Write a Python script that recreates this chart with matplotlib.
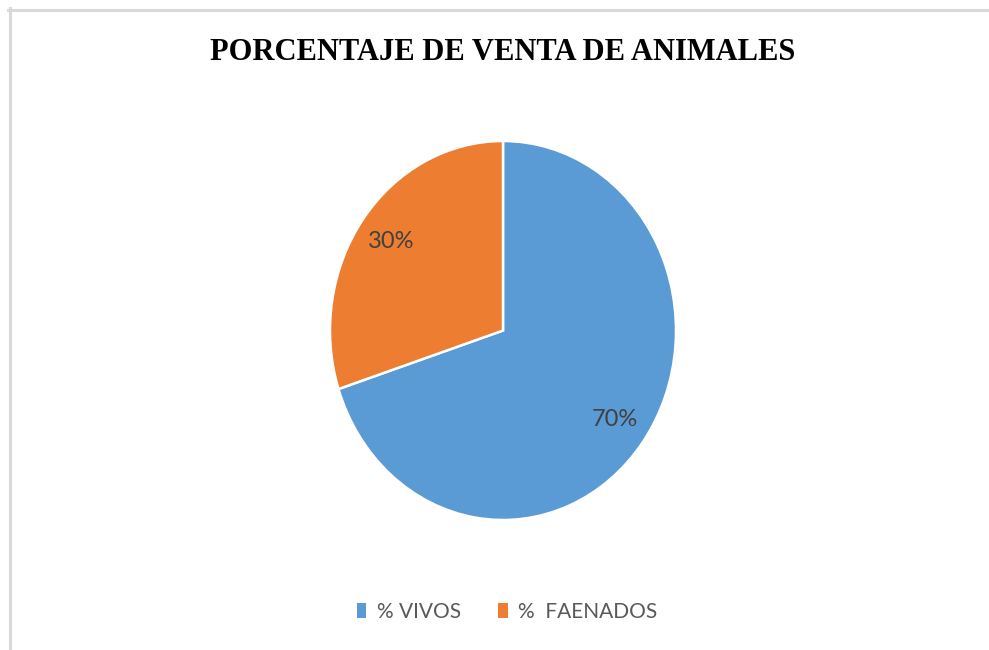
import matplotlib
matplotlib.use("Agg")
import matplotlib.pyplot as plt
from matplotlib.patches import Patch
from matplotlib.lines import Line2D

categories = ["% VIVOS", "%  FAENADOS"]
values = [70, 30]
colors = ["#5B9BD5", "#ED7D31"]
title = "PORCENTAJE DE VENTA DE ANIMALES"

W, H = 989, 650
fig = plt.figure(figsize=(W / 100, H / 100), dpi=100)
fig.patch.set_facecolor("white")

# pie axes (slightly elliptical like the reference)
l, r, t, b = 330, 676, 141, 520
ax = fig.add_axes([l / W, (H - b) / H, (r - l) / W, (b - t) / H])
wedges, texts, autotexts = ax.pie(
    values, colors=colors, startangle=90, counterclock=False,
    autopct=lambda p: f"{p:.0f}%", pctdistance=0.8,
    wedgeprops=dict(edgecolor="white", linewidth=1.8),
    textprops=dict(color="#404040", fontsize=17, family=["Lato", "DejaVu Sans"]),
)
ax.set_aspect("auto")
ax.set_xlim(-1, 1)
ax.set_ylim(-1, 1)
ax.axis("off")

fig.text(503 / W, 1 - 52 / H, title, ha="center", va="center",
         fontsize=22, fontweight="bold", family="Liberation Serif", color="black")

handles = [Patch(facecolor=c, edgecolor="none") for c in colors]
fig.legend(handles, categories, loc="center", bbox_to_anchor=(507 / W, 1 - 612 / H),
           ncol=2, frameon=False, handlelength=0.45, handleheight=0.7,
           handletextpad=0.5, columnspacing=1.8,
           prop=dict(family=["Lato", "DejaVu Sans"], size=15),
           labelcolor="#595959")

# chart border (top and left visible)
fig.add_artist(Line2D([8 / W, 1], [1 - 9.5 / H, 1 - 9.5 / H], color="#d9d9d9", lw=2.2))
fig.add_artist(Line2D([9.5 / W, 9.5 / W], [0, 1 - 8 / H], color="#d9d9d9", lw=2.2))

fig.savefig("out.png", dpi=100, facecolor="white")
